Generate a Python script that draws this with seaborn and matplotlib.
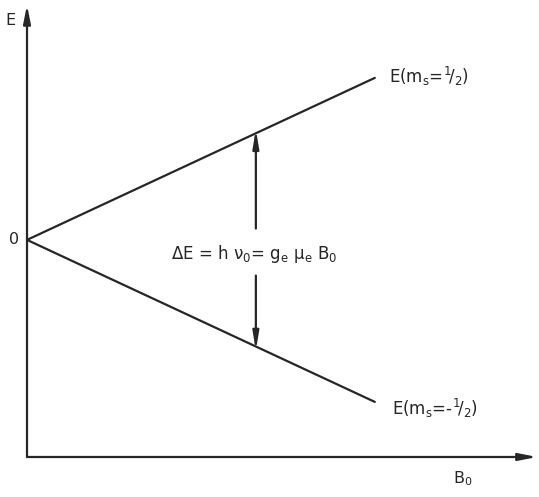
import matplotlib
matplotlib.use("Agg")
import matplotlib.pyplot as plt
import seaborn as sns
import pandas as pd

# Field strength (arbitrary units) and the two Zeeman levels
field = [0.0, 1.0]
energy_up = [0.0, 1.0]
energy_down = [0.0, -1.0]
level_labels = [r"E(m$_s$=$^1\!/_2$)", r"E(m$_s$=-$^1\!/_2$)"]

# Position of the resonance transition along the field axis
b_res = 0.658
gap_text = r"$\Delta$E = h $\nu_0$= g$_e$ $\mu_e$ B$_0$"

sns.set_theme(style="white")
plt.rcParams["font.family"] = ["DejaVu Sans"]
plt.rcParams["mathtext.default"] = "regular"

ink = "#262626"

df = pd.DataFrame({
    "B": field + field,
    "E": energy_up + energy_down,
    "level": [level_labels[0]] * 2 + [level_labels[1]] * 2,
})

fig = plt.figure(figsize=(5.39, 4.97), dpi=100)
ax = fig.add_axes([0.0501, 0.0805, 0.946, 0.9095])

sns.lineplot(data=df, x="B", y="E", hue="level", palette=[ink, ink],
             linewidth=1.6, legend=False, ax=ax)

ax.set_xlim(0, 1.466)
ax.set_ylim(-1.34, 1.45)
for s in ax.spines.values():
    s.set_visible(False)
ax.set_xticks([])
ax.set_yticks([])
ax.set_xlabel("")
ax.set_ylabel("")

# Axes drawn as arrows
ax.annotate("", xy=(0, 1.0), xytext=(0, 0), xycoords="axes fraction",
            arrowprops=dict(arrowstyle="-|>,head_length=0.9,head_width=0.18",
                            color=ink, lw=1.6, shrinkA=0, shrinkB=0))
ax.annotate("", xy=(1.0, 0), xytext=(0, 0), xycoords="axes fraction",
            arrowprops=dict(arrowstyle="-|>,head_length=0.9,head_width=0.18",
                            color=ink, lw=1.6, shrinkA=0, shrinkB=0))

# Axis labels
ax.text(-0.033, 0.965, "E", transform=ax.transAxes, ha="center", va="center",
        fontsize=11.5, color=ink)
ax.text(-0.036, 0.0, "0", transform=ax.transData, ha="center", va="center",
        fontsize=11.5, color=ink)
ax.text(0.855, -0.047, r"B$_0$", transform=ax.transAxes, ha="center", va="center",
        fontsize=11.5, color=ink)

# Level labels at the line ends
ax.text(field[1] + 0.04, energy_up[1] + 0.01, level_labels[0], ha="left", va="center",
        fontsize=12, color=ink)
ax.text(field[1] + 0.05, energy_down[1] - 0.04, level_labels[1], ha="left", va="center",
        fontsize=12, color=ink)

# Transition arrows between the levels (tips just touching the level lines)
up_at = b_res * energy_up[1] / field[1]
down_at = b_res * energy_down[1] / field[1]
arrow = dict(arrowstyle="-|>,head_length=0.9,head_width=0.15", color=ink, lw=1.6,
             shrinkA=0, shrinkB=0)
ax.annotate("", xy=(b_res, up_at + 0.025), xytext=(b_res, 0.07), arrowprops=arrow)
ax.annotate("", xy=(b_res, down_at - 0.025), xytext=(b_res, -0.22), arrowprops=arrow)

ax.text(b_res - 0.005, -0.09, gap_text, ha="center", va="center",
        fontsize=12, color=ink)

fig.savefig("out.png", dpi=100, facecolor="white")
